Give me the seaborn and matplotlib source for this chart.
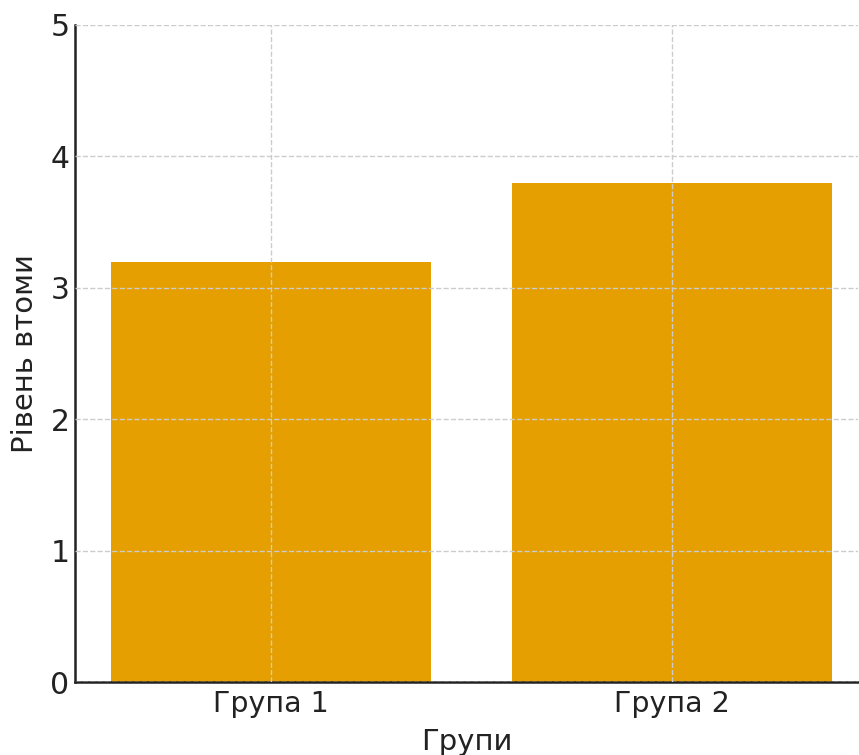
import matplotlib
matplotlib.use("Agg")
import matplotlib.pyplot as plt
import seaborn as sns
import pandas as pd

groups = ["Група 1", "Група 2"]
stress = [3.2, 3.8]

df = pd.DataFrame({"Групи": groups, "Рівень втоми": stress})

sns.set_style("white")
plt.rcParams["font.family"] = ["DejaVu Sans"]

fig = plt.figure(figsize=(8.59, 7.55), dpi=100)
ax = fig.add_axes([75 / 859, 1 - 682 / 755, (858 - 75) / 859, (682 - 25) / 755])

sns.barplot(data=df, x="Групи", y="Рівень втоми", color="#E69F00",
            saturation=1, width=0.8, linewidth=0, ax=ax)

ax.set_ylim(0, 5)
ax.set_xlim(-0.49, 1.465)
ax.set_axisbelow(False)
ax.grid(True, linestyle="--", color="#cccccc", linewidth=1)

for s in ["top", "right"]:
    ax.spines[s].set_visible(False)
for s in ["left", "bottom"]:
    ax.spines[s].set_color("#222222")
    ax.spines[s].set_linewidth(1.8)

ax.tick_params(direction="in", length=7, width=1.5, colors="#222222",
               labelsize=21.5, labelcolor="#222222", pad=4)
ax.tick_params(axis="x", labelsize=20.5, pad=6)
ax.set_xlabel("Групи", fontsize=21, color="#222222", labelpad=7)
ax.set_ylabel("Рівень втоми", fontsize=21, color="#222222", labelpad=8)

fig.savefig("out.png", dpi=100)
